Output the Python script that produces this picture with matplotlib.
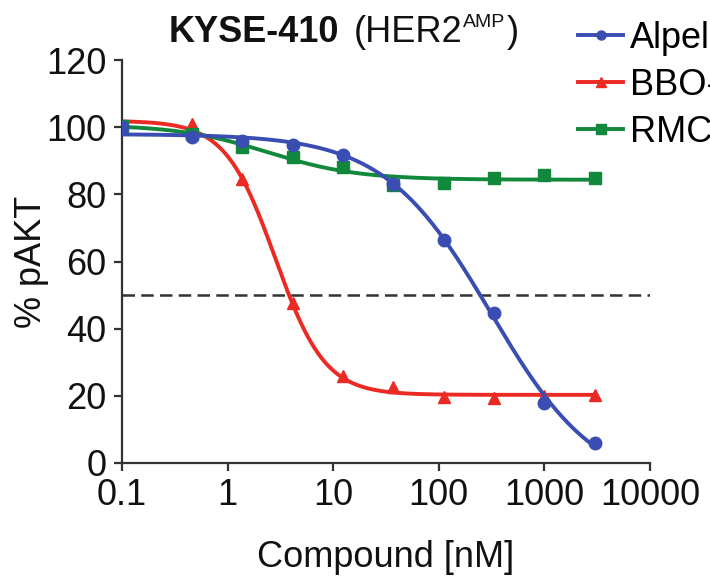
import numpy as np
import matplotlib
matplotlib.use("Agg")
import matplotlib.pyplot as plt
from matplotlib.lines import Line2D

# Concentrations (nM); the first point is the vehicle control plotted at 0.1
conc = [0.1, 0.457, 1.37, 4.12, 12.3, 37.0, 111.0, 333.0, 1000.0, 3000.0]

alpelisib = [100.0, 97.0, 96.0, 94.7, 91.7, 83.2, 66.4, 44.7, 17.9, 6.0]
bbo = [100.0, 101.0, 84.6, 47.5, 25.8, 22.5, 19.7, 19.4, 20.0, 20.2]
rmc = [100.4, 98.0, 94.1, 91.1, 88.1, 82.8, 83.4, 84.9, 85.8, 84.9]

labels = ["Alpelisib", "BBO-10203", "RMC-6236"]
colors = ["#3a4db2", "#ec2a23", "#12883c"]
markers = ["o", "^", "s"]

xticks = [0.1, 1, 10, 100, 1000, 10000]
xticklabels = ["0.1", "1", "10", "100", "1000", "10000"]
yticks = [0, 20, 40, 60, 80, 100, 120]

plt.rcParams["font.family"] = ["Liberation Sans", "DejaVu Sans"]


def fit_4pl(x, y):
    """Four-parameter logistic fit: grid over logIC50/Hill, linear solve for top/bottom."""
    lx = np.log10(np.asarray(x))
    y = np.asarray(y)
    best = None
    for hill in np.arange(0.4, 4.0, 0.02):
        for lic in np.arange(-1.5, 4.5, 0.01):
            s = 1.0 / (1.0 + 10 ** ((lx - lic) * hill))
            A = np.column_stack([1 - s, s])  # bottom, top
            coef, *_ = np.linalg.lstsq(A, y, rcond=None)
            err = np.sum((A @ coef - y) ** 2)
            if best is None or err < best[0]:
                best = (err, coef[0], coef[1], lic, hill)
    _, bottom, top, lic, hill = best
    return lambda xx: bottom + (top - bottom) / (1 + 10 ** ((np.log10(xx) - lic) * hill))


fig = plt.figure(figsize=(7.1, 5.83), dpi=100)
ax = fig.add_axes([122 / 710, 1 - 463 / 583, (650 - 122) / 710, (463 - 60) / 583])

xs = np.logspace(-1, np.log10(3000), 400)
series = [alpelisib, bbo, rmc]
order = [1, 2, 0]  # drawing order: BBO, RMC, then alpelisib on top
handles = {}
for i in order:
    f = fit_4pl(conc, series[i])
    ax.plot(xs, f(xs), color=colors[i], lw=2.8, zorder=2 + order.index(i), solid_capstyle="round")
    ms = 9 if markers[i] != "^" else 8.5
    ax.plot(conc, series[i], linestyle="none", marker=markers[i], color=colors[i],
            markersize=ms, zorder=2 + order.index(i))
    handles[i] = Line2D([], [], color=colors[i], lw=2.8, marker=markers[i], markersize=6.5)

ax.axhline(50, color="#333333", lw=1.8, dashes=(5, 2.5), zorder=1)

ax.set_xscale("log")
ax.set_xlim(0.1, 10000)
ax.set_ylim(0, 120)
ax.set_xticks(xticks)
ax.set_xticklabels(xticklabels)
ax.xaxis.set_minor_locator(matplotlib.ticker.NullLocator())
ax.set_yticks(yticks)

for side in ["top", "right"]:
    ax.spines[side].set_visible(False)
for side in ["left", "bottom"]:
    ax.spines[side].set_linewidth(1.6)
    ax.spines[side].set_color("#333333")
ax.tick_params(axis="both", direction="out", length=6, width=1.6, color="#333333",
               labelsize=26, pad=5, labelcolor="#111111")

ax.set_xlabel("Compound [nM]", fontsize=26, labelpad=19, color="#111111")
ax.set_ylabel("% pAKT", fontsize=26, color="#111111")
ax.yaxis.set_label_coords((49 - 122) / 528, 0.5)

leg = fig.legend([handles[0], handles[1], handles[2]], labels, loc="upper left",
                 bbox_to_anchor=(578 / 710, 1 - 21 / 583), frameon=False, fontsize=26,
                 handlelength=1.25, handletextpad=0.2, labelspacing=0.33, borderaxespad=0,
                 borderpad=0)

# Title built from bold, regular and superscript pieces
fig.canvas.draw()
renderer = fig.canvas.get_renderer()
base_y = 1 - 42 / 583
t1 = fig.text(169 / 710, base_y, "KYSE-410", fontsize=26, fontweight="bold",
              va="baseline", ha="left", color="#111111")
bb = t1.get_window_extent(renderer)
t2 = fig.text((bb.x1 + 14) / 710, base_y, "(HER2", fontsize=26, va="baseline", ha="left",
              color="#111111")
bb = t2.get_window_extent(renderer)
t3 = fig.text((bb.x1 + 1) / 710, base_y + 15 / 583, "AMP", fontsize=14, va="baseline", ha="left",
              color="#111111")
bb = t3.get_window_extent(renderer)
fig.text((bb.x1 + 1) / 710, base_y, ")", fontsize=26, va="baseline", ha="left", color="#111111")

fig.savefig("out.png", dpi=100)
